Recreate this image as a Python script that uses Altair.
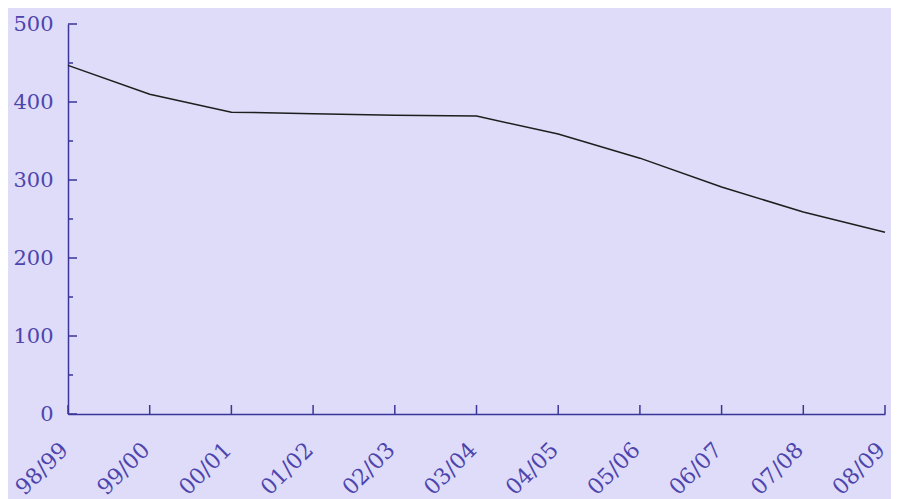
import altair as alt
import pandas as pd

periods = ["98/99", "99/00", "00/01", "01/02", "02/03", "03/04",
           "04/05", "05/06", "06/07", "07/08", "08/09"]
values = [447, 410, 387, 385, 383, 382, 359, 328, 291, 259, 233]
major_ticks = [0, 100, 200, 300, 400, 500]
minor_ticks = [50, 150, 250, 350, 450]

AXIS = "#3b3599"
LABEL = "#4d44ad"
BG = "#dedcf8"
FONT = "DejaVu Serif"
W, H = 817, 390

df = pd.DataFrame({"period": periods, "value": values})
df_major = pd.DataFrame({"t": major_ticks})
df_minor = pd.DataFrame({"t": minor_ticks})
df_x = pd.DataFrame({"period": periods})

xscale = alt.Scale(type="point", domain=periods, padding=0)
yscale = alt.Scale(domain=[0, 500])

line = alt.Chart(df).mark_line(color="#1e1e1e", strokeWidth=1.5).encode(
    x=alt.X("period:O", scale=xscale, sort=periods,
            axis=alt.Axis(title=None, labelAngle=-45, labelAlign="right",
                          labelBaseline="middle", labelPadding=32,
                          labelOffset=-4,
                          ticks=False, domainColor=AXIS, domainWidth=1.5,
                          labelColor=LABEL, labelFont=FONT, labelFontSize=22)),
    y=alt.Y("value:Q", scale=yscale,
            axis=alt.Axis(title=None, values=major_ticks, ticks=False,
                          grid=False, labelPadding=15, domainColor=AXIS,
                          domainWidth=1.5, labelColor=LABEL, labelFont=FONT,
                          labelFontSize=21)),
)

ymaj = alt.Chart(df_major).mark_rule(color=AXIS, strokeWidth=1.5).encode(
    y=alt.Y("t:Q", scale=yscale), x=alt.value(0), x2=alt.value(9))
ymin = alt.Chart(df_minor).mark_rule(color=AXIS, strokeWidth=1.5).encode(
    y=alt.Y("t:Q", scale=yscale), x=alt.value(0), x2=alt.value(5))
xt = alt.Chart(df_x).mark_rule(color=AXIS, strokeWidth=1.5).encode(
    x=alt.X("period:O", scale=xscale, sort=periods),
    y=alt.value(H), y2=alt.value(H - 9))

chart = alt.layer(line, ymaj, ymin, xt).properties(
    width=W, height=H, background=BG,
    autosize=alt.AutoSizeParams(type="none"),
    padding={"left": 60, "top": 16, "right": 6, "bottom": 85},
).configure_view(stroke=None).configure_axis(grid=False)

chart.save("out.html", embed_options={"renderer": "svg", "actions": False})
